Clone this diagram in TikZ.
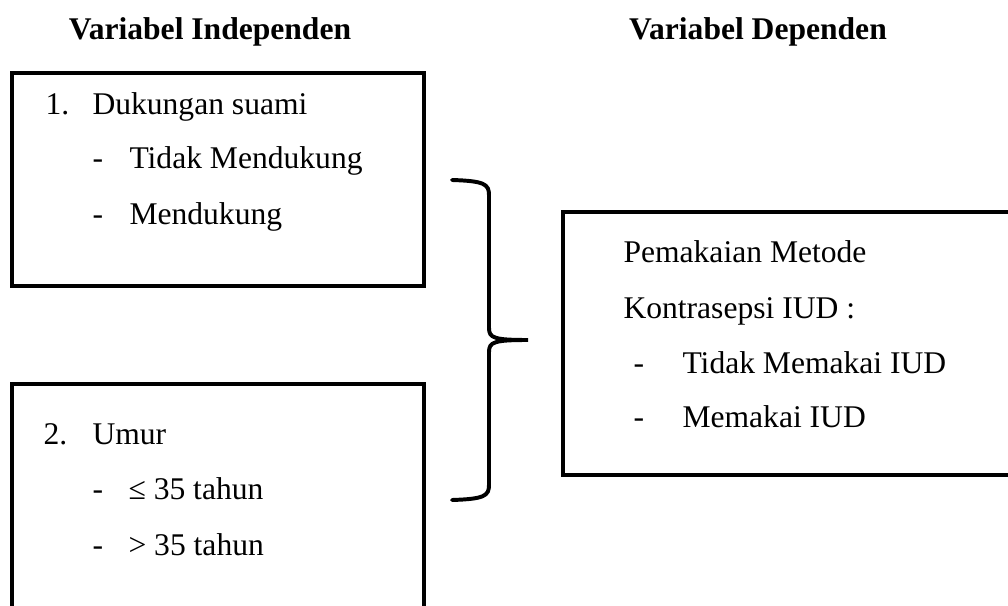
\documentclass[tikz,border=0pt]{standalone}
\usepackage{fontspec}
\setmainfont{Liberation Serif}
\usepackage{tikz}

\tikzset{
  lbl/.style={anchor=base west, inner sep=0pt, font=\fontsize{12}{14}\selectfont},
  ttl/.style={anchor=base, inner sep=0pt, font=\fontsize{12}{14}\selectfont\bfseries},
  boxline/.style={line width=1.4pt},
}

\begin{document}
\begin{tikzpicture}[x=0.38pt, y=-0.38pt]
  \useasboundingbox (0,0) rectangle (1008,606);
  \clip (0,0) rectangle (1008,606);

  % judul
  \node[ttl] (tIndep) at (210,40) {Variabel Independen};
  \node[ttl] (tDep) at (758,40) {Variabel Dependen};

  % kotak variabel
  \draw[boxline] (12,73) rectangle (424,286);
  \draw[boxline] (12,384) rectangle (424,625);
  \draw[boxline] (563,212) rectangle (1025,475);

  % dukungan suami
  \node[lbl] (n1) at (45,115) {1.};
  \node[lbl] (suami) at (92,115) {Dukungan suami};
  \node[lbl] (s1) at (129,169) {Tidak Mendukung};
  \node[lbl] (s2) at (129,225) {Mendukung};

  % umur
  \node[lbl] (n2) at (43,444) {2.};
  \node[lbl] (umur) at (92,444) {Umur};
  \node[lbl] (u1) at (128,499) {≤ 35 tahun};
  \node[lbl] (u2) at (128,555) {> 35 tahun};

  \foreach \yy in {169,225,499,555}
    \node[lbl] at (92,\yy) {-};

  % pemakaian IUD
  \node[lbl] (iud) at (623,263) {Pemakaian Metode};
  \node[lbl] (iud2) at (623,318) {Kontrasepsi IUD :};
  \node[lbl] (m1) at (682,373) {Tidak Memakai IUD};
  \node[lbl] (m2) at (682,427) {Memakai IUD};
  \foreach \yy in {373,427}
    \node[lbl] at (633,\yy) {-};

  % kurung kurawal
  \coordinate (bTop) at (452,180);
  \coordinate (bTip) at (528,340);
  \coordinate (bBot) at (452,500);
  \draw[line width=1.5pt, line cap=round]
    (bTop) .. controls (484,181) and (489,184) .. (489,195)
    -- (489,328) .. controls (489,338) and (494,340) .. (bTip)
    .. controls (494,340) and (489,342) .. (489,352)
    -- (489,485) .. controls (489,496) and (484,499) .. (bBot);
\end{tikzpicture}
\end{document}
